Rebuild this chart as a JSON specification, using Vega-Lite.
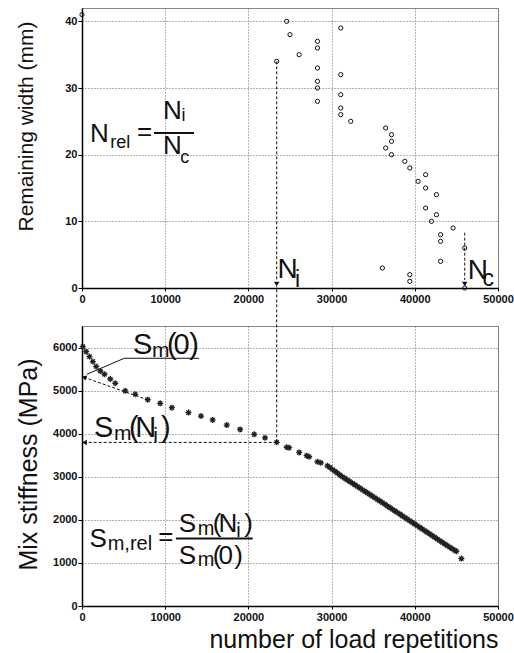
{
  "$schema": "https://vega.github.io/schema/vega-lite/v6.json",
  "padding": {"left": 14, "top": 7, "right": 10, "bottom": 0},
  "spacing": 38,
  "bounds": "flush",
  "config": {
    "font": "Liberation Sans",
    "view": {"stroke": "#888", "strokeWidth": 1},
    "axis": {
      "gridColor": "#666", "gridDash": [1, 2], "gridOpacity": 1, "gridWidth": 1,
      "domainColor": "#000", "domainWidth": 1.5, "tickColor": "#000", "tickSize": 4,
      "labelFont": "Liberation Sans", "labelFontWeight": "bold", "labelFontSize": 11, "labelColor": "#111",
      "labelFlush": false,
      "titleFont": "Liberation Sans", "titleFontWeight": "normal", "titleColor": "#111"
    }
  },
  "vconcat": [
    {
      "width": 416, "height": 280,
      "layer": [
        {
          "data": {"values": [
            {"n": 0, "w": 41}, {"n": 24600, "w": 40}, {"n": 25000, "w": 38}, {"n": 26100, "w": 35}, {"n": 23400, "w": 34},
            {"n": 28300, "w": 37}, {"n": 28300, "w": 36}, {"n": 28300, "w": 33}, {"n": 28300, "w": 31}, {"n": 28300, "w": 30}, {"n": 28300, "w": 28},
            {"n": 31100, "w": 39}, {"n": 31100, "w": 32}, {"n": 31100, "w": 29}, {"n": 31100, "w": 27}, {"n": 31100, "w": 26},
            {"n": 32300, "w": 25}, {"n": 36500, "w": 24}, {"n": 36500, "w": 21}, {"n": 37200, "w": 23}, {"n": 37200, "w": 22}, {"n": 37200, "w": 20},
            {"n": 38800, "w": 19}, {"n": 39400, "w": 18}, {"n": 40400, "w": 16}, {"n": 41300, "w": 17}, {"n": 41300, "w": 15}, {"n": 41300, "w": 12},
            {"n": 42600, "w": 14}, {"n": 42600, "w": 11}, {"n": 42000, "w": 10}, {"n": 43100, "w": 8}, {"n": 43100, "w": 7}, {"n": 43100, "w": 4},
            {"n": 44600, "w": 9}, {"n": 46000, "w": 6}, {"n": 36100, "w": 3}, {"n": 39400, "w": 2}, {"n": 39400, "w": 1}, {"n": 46000, "w": 0}
          ]},
          "mark": {"type": "point", "shape": "circle", "filled": false, "stroke": "#111", "strokeWidth": 1, "size": 18, "opacity": 1},
          "encoding": {
            "x": {"field": "n", "type": "quantitative", "scale": {"domain": [0, 50000], "nice": false},
                  "axis": {"values": [0, 10000, 20000, 30000, 40000, 50000], "format": "d", "title": null, "tickSize": 3, "labelPadding": 2}},
            "y": {"field": "w", "type": "quantitative", "scale": {"domain": [0, 42], "nice": false},
                  "axis": {"values": [0, 5, 10, 15, 20, 25, 30, 35, 40], "format": "d", "title": "Remaining width (mm)", "titleFontSize": 21,
                           "titleX": -56, "titleY": 118, "titleBaseline": "middle", "labelPadding": 1}}
          }
        },
        {
          "data": {"values": [{"n": 23400, "w": 34, "w2": 1.2}, {"n": 46000, "w": 8.3, "w2": 1.2}]},
          "mark": {"type": "rule", "strokeDash": [3, 2], "strokeWidth": 1, "color": "#111"},
          "encoding": {"x": {"field": "n", "type": "quantitative"}, "y": {"field": "w", "type": "quantitative"}, "y2": {"field": "w2"}}
        },
        {
          "data": {"values": [{"n": 23400, "w": 0.6}, {"n": 46000, "w": 0.6}]},
          "mark": {"type": "point", "shape": "triangle-down", "filled": true, "color": "#111", "size": 30, "opacity": 1},
          "encoding": {"x": {"field": "n", "type": "quantitative"}, "y": {"field": "w", "type": "quantitative"}}
        },
        {
          "data": {"values": [{"label": "N", "n": 23500, "w": 1.5}, {"label": "N", "n": 46350, "w": 1.35}]},
          "mark": {"type": "text", "align": "left", "baseline": "alphabetic", "fontSize": 28, "color": "#111"},
          "encoding": {"x": {"field": "n", "type": "quantitative"}, "y": {"field": "w", "type": "quantitative"}, "text": {"field": "label"}}
        },
        {
          "data": {"values": [{"label": "i", "n": 25600, "w": 0.15}, {"label": "c", "n": 48150, "w": 0.3}]},
          "mark": {"type": "text", "align": "left", "baseline": "alphabetic", "fontSize": 23, "color": "#111"},
          "encoding": {"x": {"field": "n", "type": "quantitative"}, "y": {"field": "w", "type": "quantitative"}, "text": {"field": "label"}}
        },
        {
          "data": {"values": [{"label": "N", "n": 950, "w": 21.9}, {"label": "=", "n": 6600, "w": 22.2}, {"label": "N", "n": 9730, "w": 25.35}, {"label": "N", "n": 9730, "w": 20.1}]},
          "mark": {"type": "text", "align": "left", "baseline": "alphabetic", "fontSize": 26, "color": "#111"},
          "encoding": {"x": {"field": "n", "type": "quantitative"}, "y": {"field": "w", "type": "quantitative"}, "text": {"field": "label"}}
        },
        {
          "data": {"values": [{"label": "rel", "n": 3400, "w": 21.0}, {"label": "i", "n": 11950, "w": 25.05}, {"label": "c", "n": 11800, "w": 18.75}]},
          "mark": {"type": "text", "align": "left", "baseline": "alphabetic", "fontSize": 18, "color": "#111"},
          "encoding": {"x": {"field": "n", "type": "quantitative"}, "y": {"field": "w", "type": "quantitative"}, "text": {"field": "label"}}
        },
        {
          "data": {"values": [{"n": 8654, "n2": 13461, "w": 23.25}]},
          "mark": {"type": "rule", "strokeWidth": 2, "color": "#111"},
          "encoding": {"x": {"field": "n", "type": "quantitative"}, "x2": {"field": "n2"}, "y": {"field": "w", "type": "quantitative"}}
        }
      ]
    },
    {
      "width": 416, "height": 280,
      "layer": [
        {
          "data": {"values": [
            {"n": 100, "s": 6020}, {"n": 500, "s": 5905}, {"n": 900, "s": 5790}, {"n": 1300, "s": 5675}, {"n": 1700, "s": 5560},
            {"n": 2200, "s": 5455}, {"n": 2700, "s": 5380}, {"n": 3400, "s": 5270}, {"n": 4000, "s": 5170}, {"n": 5200, "s": 4995},
            {"n": 6400, "s": 4915}, {"n": 7900, "s": 4790}, {"n": 9400, "s": 4705}, {"n": 10800, "s": 4605}, {"n": 12800, "s": 4490},
            {"n": 14300, "s": 4410}, {"n": 15700, "s": 4320}, {"n": 17400, "s": 4200}, {"n": 19000, "s": 4100}, {"n": 20700, "s": 3985},
            {"n": 22000, "s": 3905}, {"n": 23400, "s": 3800}, {"n": 24600, "s": 3685}, {"n": 24900, "s": 3675}, {"n": 26100, "s": 3565},
            {"n": 27000, "s": 3490}, {"n": 27300, "s": 3465}, {"n": 28300, "s": 3350}, {"n": 28700, "s": 3325}, {"n": 29500, "s": 3255},
            {"n": 29800, "s": 3215}, {"n": 30100, "s": 3170}, {"n": 30400, "s": 3128}, {"n": 30700, "s": 3085}, {"n": 31000, "s": 3042},
            {"n": 31300, "s": 3000}, {"n": 31600, "s": 2962}, {"n": 31900, "s": 2925}, {"n": 32200, "s": 2888}, {"n": 32500, "s": 2850},
            {"n": 32800, "s": 2812}, {"n": 33100, "s": 2775}, {"n": 33400, "s": 2738}, {"n": 33700, "s": 2700}, {"n": 34000, "s": 2662},
            {"n": 34300, "s": 2625}, {"n": 34600, "s": 2588}, {"n": 34900, "s": 2550}, {"n": 35200, "s": 2512}, {"n": 35500, "s": 2475},
            {"n": 35800, "s": 2438}, {"n": 36100, "s": 2400}, {"n": 36400, "s": 2362}, {"n": 36700, "s": 2322}, {"n": 37000, "s": 2285},
            {"n": 37300, "s": 2246}, {"n": 37600, "s": 2208}, {"n": 37900, "s": 2170}, {"n": 38200, "s": 2132}, {"n": 38500, "s": 2093},
            {"n": 38800, "s": 2055}, {"n": 39100, "s": 2016}, {"n": 39400, "s": 1978}, {"n": 39700, "s": 1940}, {"n": 40000, "s": 1902},
            {"n": 40300, "s": 1864}, {"n": 40600, "s": 1825}, {"n": 40900, "s": 1787}, {"n": 41200, "s": 1748}, {"n": 41500, "s": 1710},
            {"n": 41800, "s": 1672}, {"n": 42100, "s": 1633}, {"n": 42400, "s": 1594}, {"n": 42700, "s": 1555}, {"n": 43000, "s": 1516},
            {"n": 43300, "s": 1478}, {"n": 43600, "s": 1440}, {"n": 43900, "s": 1402}, {"n": 44200, "s": 1365}, {"n": 44500, "s": 1328},
            {"n": 44800, "s": 1292}, {"n": 45000, "s": 1270}, {"n": 45600, "s": 1100}
          ]},
          "mark": {"type": "point", "shape": "M-1,0L1,0M0,-1L0,1M-0.7,-0.7L0.7,0.7M-0.7,0.7L0.7,-0.7", "filled": false, "stroke": "#222", "strokeWidth": 1.3, "size": 36, "opacity": 1},
          "encoding": {
            "x": {"field": "n", "type": "quantitative", "scale": {"domain": [0, 50000], "nice": false},
                  "axis": {"values": [0, 10000, 20000, 30000, 40000, 50000], "format": "d", "title": "number of load repetitions",
                           "titleFontSize": 25, "titleAnchor": "end", "titlePadding": 5, "tickSize": 3, "labelPadding": 2}},
            "y": {"field": "s", "type": "quantitative", "scale": {"domain": [0, 6500], "nice": false},
                  "axis": {"values": [0, 1000, 2000, 3000, 4000, 5000, 6000], "format": "d", "title": "Mix stiffness (MPa)", "titleFontSize": 25,
                           "titleX": -54, "titleY": 138, "titleBaseline": "middle", "labelPadding": 1}}
          }
        },
        {
          "data": {"values": [
            {"n": 23400, "s": 3798, "n2": 23400, "s2": 7420},
            {"n": 23400, "s": 3798, "n2": 450, "s2": 3798},
            {"n": 7933, "s": 4784, "n2": 400, "s2": 5299}
          ]},
          "mark": {"type": "rule", "strokeDash": [3, 2], "strokeWidth": 1, "color": "#111"},
          "encoding": {"x": {"field": "n", "type": "quantitative"}, "y": {"field": "s", "type": "quantitative"}, "x2": {"field": "n2"}, "y2": {"field": "s2"}}
        },
        {
          "data": {"values": [
            {"n": 5084, "s": 5751, "n2": 14063, "s2": 5751},
            {"n": 5084, "s": 5751, "n2": 600, "s2": 5380}
          ]},
          "mark": {"type": "rule", "strokeWidth": 1, "color": "#111"},
          "encoding": {"x": {"field": "n", "type": "quantitative"}, "y": {"field": "s", "type": "quantitative"}, "x2": {"field": "n2"}, "y2": {"field": "s2"}}
        },
        {
          "data": {"values": [{"n": 300, "s": 3798}]},
          "mark": {"type": "point", "shape": "triangle-left", "filled": true, "color": "#111", "size": 30, "opacity": 1},
          "encoding": {"x": {"field": "n", "type": "quantitative"}, "y": {"field": "s", "type": "quantitative"}}
        },
        {
          "data": {"values": [{"n": 250, "s": 5310}]},
          "mark": {"type": "point", "shape": "triangle-left", "filled": true, "color": "#111", "size": 30, "opacity": 1, "angle": 19},
          "encoding": {"x": {"field": "n", "type": "quantitative"}, "y": {"field": "s", "type": "quantitative"}}
        },
        {
          "data": {"values": [
            {"label": "S", "n": 6130, "s": 5860}, {"label": "(", "n": 10216, "s": 5860}, {"label": "0", "n": 11000, "s": 5860}, {"label": ")", "n": 12897, "s": 5860},
            {"label": "S", "n": 1442, "s": 3930}, {"label": "(", "n": 5649, "s": 3930}, {"label": "N", "n": 6400, "s": 3930}, {"label": ")", "n": 9495, "s": 3930}
          ]},
          "mark": {"type": "text", "align": "left", "baseline": "alphabetic", "fontSize": 29, "color": "#111"},
          "encoding": {"x": {"field": "n", "type": "quantitative"}, "y": {"field": "s", "type": "quantitative"}, "text": {"field": "label"}}
        },
        {
          "data": {"values": [{"label": "m", "n": 8413, "s": 5791}, {"label": "m", "n": 3846, "s": 3860}, {"label": "i", "n": 8560, "s": 3814}]},
          "mark": {"type": "text", "align": "left", "baseline": "alphabetic", "fontSize": 21, "color": "#111"},
          "encoding": {"x": {"field": "n", "type": "quantitative"}, "y": {"field": "s", "type": "quantitative"}, "text": {"field": "label"}}
        },
        {
          "data": {"values": [
            {"label": "S", "n": 900, "s": 1372}, {"label": "=", "n": 9150, "s": 1405},
            {"label": "S", "n": 11620, "s": 1721}, {"label": "(", "n": 15709, "s": 1721}, {"label": "N", "n": 16420, "s": 1721}, {"label": ")", "n": 19507, "s": 1721},
            {"label": "S", "n": 11620, "s": 984}, {"label": "(", "n": 15709, "s": 984}, {"label": "0", "n": 16420, "s": 984}, {"label": ")", "n": 18305, "s": 984}
          ]},
          "mark": {"type": "text", "align": "left", "baseline": "alphabetic", "fontSize": 26, "color": "#111"},
          "encoding": {"x": {"field": "n", "type": "quantitative"}, "y": {"field": "s", "type": "quantitative"}, "text": {"field": "label"}}
        },
        {
          "data": {"values": [{"label": "m,rel", "n": 3089, "s": 1302}, {"label": "m", "n": 13906, "s": 1651}, {"label": "i", "n": 18540, "s": 1605}, {"label": "m", "n": 13906, "s": 919}]},
          "mark": {"type": "text", "align": "left", "baseline": "alphabetic", "fontSize": 20, "color": "#111"},
          "encoding": {"x": {"field": "n", "type": "quantitative"}, "y": {"field": "s", "type": "quantitative"}, "text": {"field": "label"}}
        },
        {
          "data": {"values": [{"n": 11298, "n2": 20516, "s": 1565}]},
          "mark": {"type": "rule", "strokeWidth": 2, "color": "#111"},
          "encoding": {"x": {"field": "n", "type": "quantitative"}, "x2": {"field": "n2"}, "y": {"field": "s", "type": "quantitative"}}
        }
      ]
    }
  ]
}
